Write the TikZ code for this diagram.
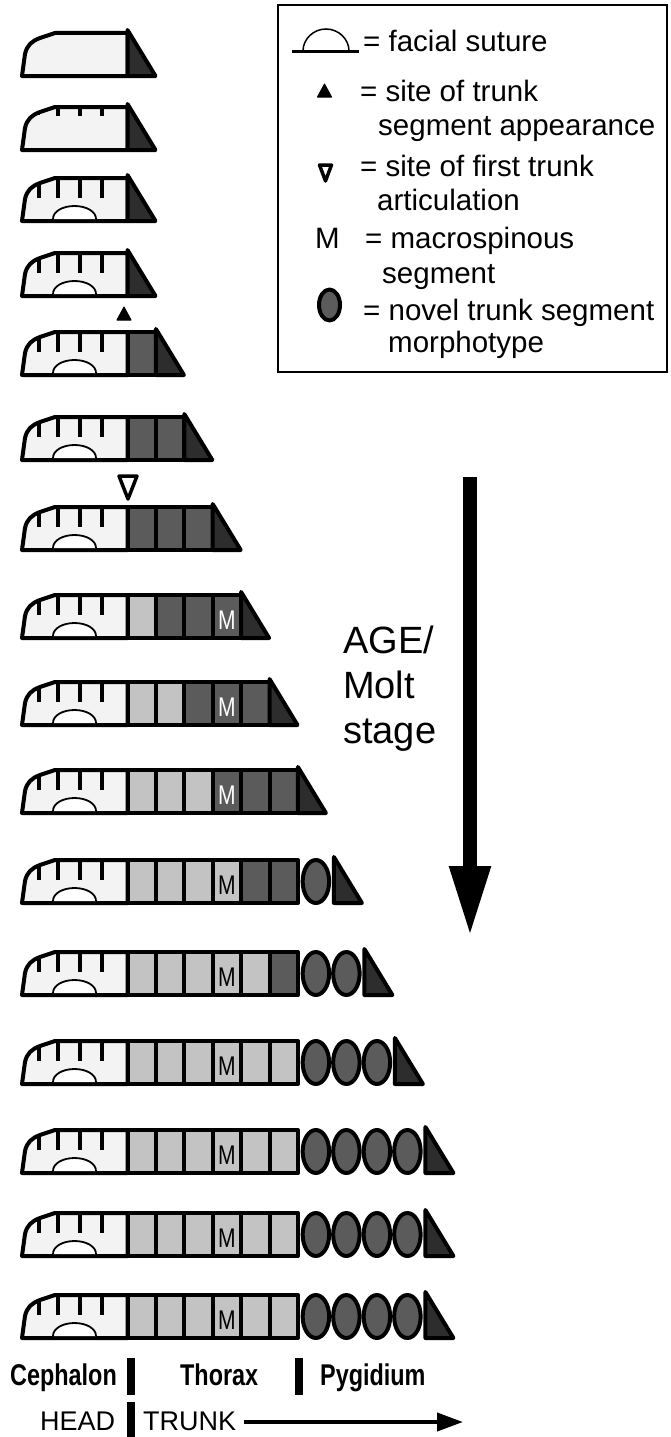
\documentclass[tikz,border=0pt]{standalone}
\usepackage{fontspec}
\setmainfont{Liberation Sans}
\newfontfamily\narrowsans[FakeStretch=0.78]{Liberation Sans}
\usetikzlibrary{arrows.meta,shapes.geometric}

\definecolor{cephfill}{HTML}{F3F3F3}
\definecolor{thoraxlight}{HTML}{C3C3C3}
\definecolor{thoraxdark}{HTML}{5B5B5B}
\definecolor{tailfill}{HTML}{2D2D2D}

\newcommand{\headx}{127.5}
\newcommand{\seglabel}{}

\tikzset{
  outline/.style={draw=black, line width=4pt, line join=round},
  cephalon/.style={outline, fill=cephfill},
  pygtail/.style={outline, fill=tailfill},
  spine/.style={line width=4pt},
  suture/.style={draw=black, line width=1.8pt, fill=white},
  seg/.style={outline, rectangle, minimum width=28.4pt, minimum height=43pt, inner sep=0pt,
    /utils/exec=\def\seglabel{}},
  seg L/.style={fill=thoraxlight},
  seg D/.style={fill=thoraxdark},
  seg M/.style={fill=thoraxdark, text=white, text height=25pt, text depth=0pt,
    font=\narrowsans\fontsize{27}{27}\selectfont, /utils/exec=\def\seglabel{M}},
  seg N/.style={fill=thoraxlight, text=black, text height=25pt, text depth=0pt,
    font=\narrowsans\fontsize{27}{27}\selectfont, /utils/exec=\def\seglabel{M}},
  novel/.style={outline, ellipse, fill=thoraxdark, minimum width=26.5pt, minimum height=43pt, inner sep=0pt},
  legendtext/.style={anchor=base west, inner sep=0pt, font=\fontsize{29.5}{33}\selectfont},
  agetext/.style={anchor=base west, inner sep=0pt, font=\fontsize{38}{45}\selectfont},
  parttext/.style={anchor=base west, inner sep=0pt, font=\narrowsans\bfseries\fontsize{30}{30}\selectfont},
  regiontext/.style={anchor=base west, inner sep=0pt, font=\fontsize{27}{27}\selectfont},
  divider/.style={line width=8pt}
}

% one growth stage: #1 row, #2 bottom edge, #3 head marks (0 none, 1 short, 2 long + suture),
% #4 number of thoracic segments, #5 segment kinds, #6 number of pygidial ovals
\newcommand{\stage}[6]{%
  \pgfmathsetmacro\thoraxend{\headx+#4*28.4}%
  \pgfmathsetmacro\tailstart{#6>0 ? \thoraxend+18+(#6-1)*30.5+18 : \thoraxend}%
  \filldraw[cephalon] (22,#2) -- (25,#2-22) .. controls (27,#2-31) and (32,#2-35) .. (40,#2-38)
    -- (55,#2-43) -- (\headx,#2-43) -- (\headx,#2) -- cycle;
  \ifcase#3\or
    \draw[spine] (38,#2-38) -- (38,#2-35) (58,#2-43) -- (58,#2-34)
      (80,#2-43) -- (80,#2-34) (102,#2-43) -- (102,#2-34);
  \or
    \draw[spine] (39,#2-37.5) -- (39,#2-23) (58,#2-43) -- (58,#2-23)
      (80,#2-43) -- (80,#2-23) (102,#2-43) -- (102,#2-23);
    \filldraw[suture] (53,#2-2) .. controls (53,#2-9.5) and (62.6,#2-15) .. (74.5,#2-15)
      .. controls (86.4,#2-15) and (96,#2-9.5) .. (96,#2-2);
  \fi
  \ifnum#4>0
    \foreach \s [count=\i] in {#5} {
      \node[seg, seg \s] (seg#1-\i) at ({\headx+(\i-0.5)*28.4},{#2-21.5}) {\seglabel};
    }
  \fi
  \ifnum#6>0
    \foreach \j in {1,...,#6} {
      \node[novel] (oval#1-\j) at ({\thoraxend+18+(\j-1)*30.5},{#2-21.5}) {};
    }
  \fi
  \filldraw[pygtail] (\tailstart,#2) -- (\tailstart,#2-46) -- ({\tailstart+28},#2) -- cycle;
}

\begin{document}
\begin{tikzpicture}[x=1pt,y=-1pt]
  \useasboundingbox (0,0) rectangle (670,1437);

  % growth series
  \stage{1}{76}{0}{0}{}{0}
  \stage{2}{150}{1}{0}{}{0}
  \stage{3}{221}{2}{0}{}{0}
  \stage{4}{296}{2}{0}{}{0}
  \stage{5}{375}{2}{1}{D}{0}
  \stage{6}{460}{2}{2}{D,D}{0}
  \stage{7}{550}{2}{3}{D,D,D}{0}
  \stage{8}{638}{2}{4}{L,D,D,M}{0}
  \stage{9}{725}{2}{5}{L,L,D,M,D}{0}
  \stage{10}{813}{2}{6}{L,L,L,M,D,D}{0}
  \stage{11}{903}{2}{6}{L,L,L,N,D,D}{1}
  \stage{12}{995}{2}{6}{L,L,L,N,L,D}{2}
  \stage{13}{1084}{2}{6}{L,L,L,N,L,L}{3}
  \stage{14}{1173}{2}{6}{L,L,L,N,L,L}{4}
  \stage{15}{1256}{2}{6}{L,L,L,N,L,L}{4}
  \stage{16}{1338}{2}{6}{L,L,L,N,L,L}{4}

  % where segments appear / first articulation
  \filldraw[line width=1pt, line join=round] (124,307) -- (131,320) -- (117,320) -- cycle;
  \filldraw[fill=white, line width=3.5pt, line join=round] (119,476) -- (137,476) -- (128,499) -- cycle;

  % legend
  \draw[line width=1.5pt] (278,5) rectangle (667,372);
  \draw[line width=3pt] (292,52) -- (359,52);
  \draw[line width=1.5pt] (303,51) .. controls (303,39) and (313.5,29) .. (326,29)
    .. controls (338.5,29) and (349,39) .. (349,51);
  \node[legendtext] (lgsuture) at (363,52) {= facial suture};
  \filldraw[line width=1pt, line join=round] (324.5,84) -- (331.5,97) -- (317.5,97) -- cycle;
  \node[legendtext] (lgsite) at (360,101) {= site of trunk};
  \node[legendtext] (lgsite2) at (378,135) {segment appearance};
  \draw[line width=3.5pt, line join=round] (319.5,165) -- (331.5,165) -- (325.5,181) -- cycle;
  \node[legendtext] (lgart) at (360,176) {= site of first trunk};
  \node[legendtext] (lgart2) at (377,210) {articulation};
  \node[legendtext] (lgM) at (315,248) {M};
  \node[legendtext] (lgmacro) at (365,248) {= macrospinous};
  \node[legendtext] (lgmacro2) at (382,283) {segment};
  \node[outline, ellipse, fill=thoraxdark, minimum width=21pt, minimum height=31pt, inner sep=0pt] (lgoval) at (329.5,305) {};
  \node[legendtext] (lgnovel) at (363,320) {= novel trunk segment};
  \node[legendtext] (lgnovel2) at (388,352) {morphotype};

  % age axis
  \node[agetext] (age1) at (343,653) {AGE/};
  \node[agetext] (age2) at (343,698) {Molt};
  \node[agetext] (age3) at (343,743) {stage};
  \coordinate (agetop) at (470,477);
  \coordinate (agebot) at (470,937);
  \draw[line width=14pt, -{Triangle[length=71pt,width=38pt]}] (agetop) -- (agebot);

  % body regions
  \node[parttext] (ceph) at (10,1385) {Cephalon};
  \node[parttext] (thorax) at (180,1385) {Thorax};
  \node[parttext] (pyg) at (320,1385) {Pygidium};
  \draw[divider] (131,1358) -- (131,1395);
  \draw[divider] (299,1358) -- (299,1395);
  \node[regiontext] (head) at (40,1430) {HEAD};
  \node[regiontext] (trunk) at (143,1430) {TRUNK};
  \draw[divider] (131,1402) -- (131,1437);
  \coordinate (trunkend) at (463,1422);
  \draw[line width=4pt, shorten <=8pt, -{Triangle[length=26pt,width=18pt]}] (trunk.east |- trunkend) -- (trunkend);
\end{tikzpicture}
\end{document}
